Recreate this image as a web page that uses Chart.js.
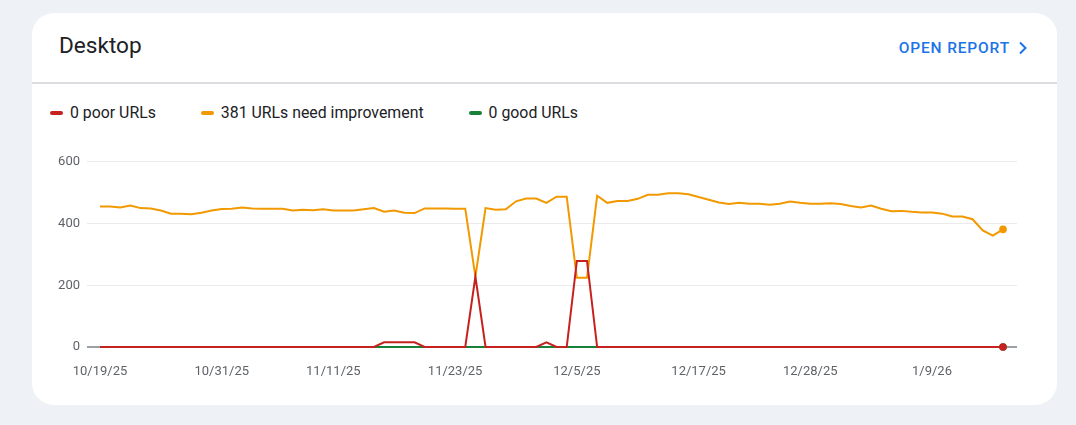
<!DOCTYPE html>
<html>
<head>
<meta charset="utf-8">
<script src="https://cdn.jsdelivr.net/npm/chart.js@4.4.1/dist/chart.umd.min.js"></script>
<style>
	html, body { margin: 0; padding: 0; }
	body { width: 1076px; height: 425px; background: #eef1f6; font-family: Roboto, 'Noto Sans', sans-serif; position: relative; overflow: hidden; }
	.card { position: absolute; left: 32px; top: 13px; width: 1025px; height: 392px; background: #fff; border-radius: 22px; }
	.title { position: absolute; left: 27px; top: 20px; font-size: 22.6px; line-height: 26px; color: #202124; }
	.open { position: absolute; right: 29px; top: 26px; font-size: 15.5px; line-height: 18px; font-weight: 500; letter-spacing: .85px; color: #1a73e8; display: flex; align-items: center; }
	.open svg { margin-left: 8px; }
	.divider { position: absolute; left: 0; right: 0; top: 69px; height: 2px; background: #dadce0; }
	.legend { position: absolute; left: 18px; top: 90px; display: flex; font-size: 15.85px; line-height: 20px; color: #202124; }
	.legend .item { display: flex; align-items: center; margin-right: 45px; }
	.swatch { width: 13px; height: 4px; border-radius: 2px; margin-right: 7px; }
	#wrap { position: absolute; left: 8px; top: 134px; width: 990px; height: 235px; }
</style>
</head>
<body>
<div class="card">
	<div class="title">Desktop</div>
	<div class="open">OPEN REPORT<svg width="10" height="14" viewBox="0 0 10 14"><path d="M2 1.5 L7.5 7 L2 12.5" fill="none" stroke="#1a73e8" stroke-width="2"/></svg></div>
	<div class="divider"></div>
	<div class="legend" id="legend"></div>
	<div id="wrap"><canvas id="chart"></canvas></div>
</div>
<script>
// daily points, 10/19/25 -> 1/16/26
const startDate = new Date(2025, 9, 19)
const dayCount  = 90

const tickLabels = ['10/19/25', '10/31/25', '11/11/25', '11/23/25', '12/5/25', '12/17/25', '12/28/25', '1/9/26']
const yTicks     = [0, 200, 400, 600]

const poorUrls = [
	0, 0, 0, 0, 0, 0, 0, 0, 0, 0,
	0, 0, 0, 0, 0, 0, 0, 0, 0, 0,
	0, 0, 0, 0, 0, 0, 0, 0, 15, 15,
	15, 15, 0, 0, 0, 0, 0, 228, 0, 0,
	0, 0, 0, 0, 15, 0, 0, 279, 279, 0,
	0, 0, 0, 0, 0, 0, 0, 0, 0, 0,
	0, 0, 0, 0, 0, 0, 0, 0, 0, 0,
	0, 0, 0, 0, 0, 0, 0, 0, 0, 0,
	0, 0, 0, 0, 0, 0, 0, 0, 0, 0,
]
const needImprovementUrls = [
	455, 455, 452, 458, 450, 449, 442, 432, 432, 430,
	435, 442, 447, 448, 452, 449, 448, 448, 448, 442,
	445, 443, 446, 442, 442, 442, 446, 450, 438, 442,
	435, 434, 449, 449, 449, 448, 448, 228, 450, 445,
	446, 472, 481, 481, 467, 487, 487, 224, 224, 490,
	467, 473, 473, 480, 493, 493, 498, 498, 495, 486,
	477, 468, 463, 467, 464, 464, 461, 464, 471, 467,
	464, 464, 466, 463, 457, 452, 458, 448, 440, 441,
	438, 436, 436, 432, 423, 423, 414, 378, 361, 381,
]
const goodUrls = [
	0, 0, 0, 0, 0, 0, 0, 0, 0, 0,
	0, 0, 0, 0, 0, 0, 0, 0, 0, 0,
	0, 0, 0, 0, 0, 0, 0, 0, 0, 0,
	0, 0, 0, 0, 0, 0, 0, 0, 0, 0,
	0, 0, 0, 0, 0, 0, 0, 0, 0, 0,
	0, 0, 0, 0, 0, 0, 0, 0, 0, 0,
	0, 0, 0, 0, 0, 0, 0, 0, 0, 0,
	0, 0, 0, 0, 0, 0, 0, 0, 0, 0,
	0, 0, 0, 0, 0, 0, 0, 0, 0, 0,
]

const seriesInfo = [
	{ label : 'poor URLs',              color : '#c5221f', data : poorUrls },
	{ label : 'URLs need improvement', color : '#f29900', data : needImprovementUrls },
	{ label : 'good URLs',              color : '#188038', data : goodUrls },
]

const dates = []
for ( let i = 0; i < dayCount; i++ ) {
	const d = new Date(startDate.getFullYear(), startDate.getMonth(), startDate.getDate() + i)
	dates.push(`${d.getMonth() + 1}/${d.getDate()}/${String(d.getFullYear()).slice(2)}`)
}

document.getElementById('legend').innerHTML = seriesInfo.map((s) =>
	`<span class="item"><span class="swatch" style="background:${s.color}"></span>${s.data[s.data.length - 1]} ${s.label}</span>`
).join('')

const lastIdx = dayCount - 1

new Chart(document.getElementById('chart'), {
	type : 'line',
	data : {
		datasets : seriesInfo.map((s) => ({
			label                : s.label,
			data                 : s.data.map((v, i) => ({ x : i, y : v })),
			borderColor          : s.color,
			backgroundColor      : s.color,
			borderWidth          : 2,
			tension              : 0,
			pointRadius          : (ctx) => ctx.dataIndex === lastIdx ? 3.8 : 0,
			pointHoverRadius     : 0,
			pointBorderWidth     : 0,
			pointBackgroundColor : s.color,
			clip                 : false,
		})),
	},
	options : {
		animation           : false,
		responsive          : true,
		maintainAspectRatio : false,
		events              : [],
		layout              : { padding : { top : 7, right : 13, bottom : 0, left : 0 } },
		plugins : {
			legend  : { display : false },
			tooltip : { enabled : false },
		},
		scales : {
			x : {
				type   : 'linear',
				min    : -1.28,
				max    : lastIdx + 1.38,
				border : { display : false },
				grid   : { display : false, drawTicks : false },
				afterBuildTicks : (scale) => {
					scale.ticks = tickLabels.map((t) => ({ value : dates.indexOf(t) }))
				},
				afterFit : (scale) => { scale.height = 35 },
				ticks  : {
					autoSkip    : false,
					maxRotation : 0,
					padding     : 17,
					color       : '#5f6368',
					font        : { family : 'Roboto', size : 13 },
					callback    : (value) => dates[value],
				},
			},
			y : {
				min    : 0,
				max    : 600,
				border : { display : false },
				grid   : {
					drawTicks : false,
					color     : (ctx) => ctx.tick.value === 0 ? '#9aa0a6' : '#ebebeb',
					lineWidth : (ctx) => ctx.tick.value === 0 ? 2 : 1,
				},
				afterBuildTicks : (scale) => {
					scale.ticks = yTicks.map((v) => ({ value : v }))
				},
				afterFit : (scale) => { scale.width = 47 },
				ticks  : {
					padding : 7,
					color   : '#5f6368',
					font    : { family : 'Roboto', size : 13 },
				},
			},
		},
	},
})
</script>
</body>
</html>
